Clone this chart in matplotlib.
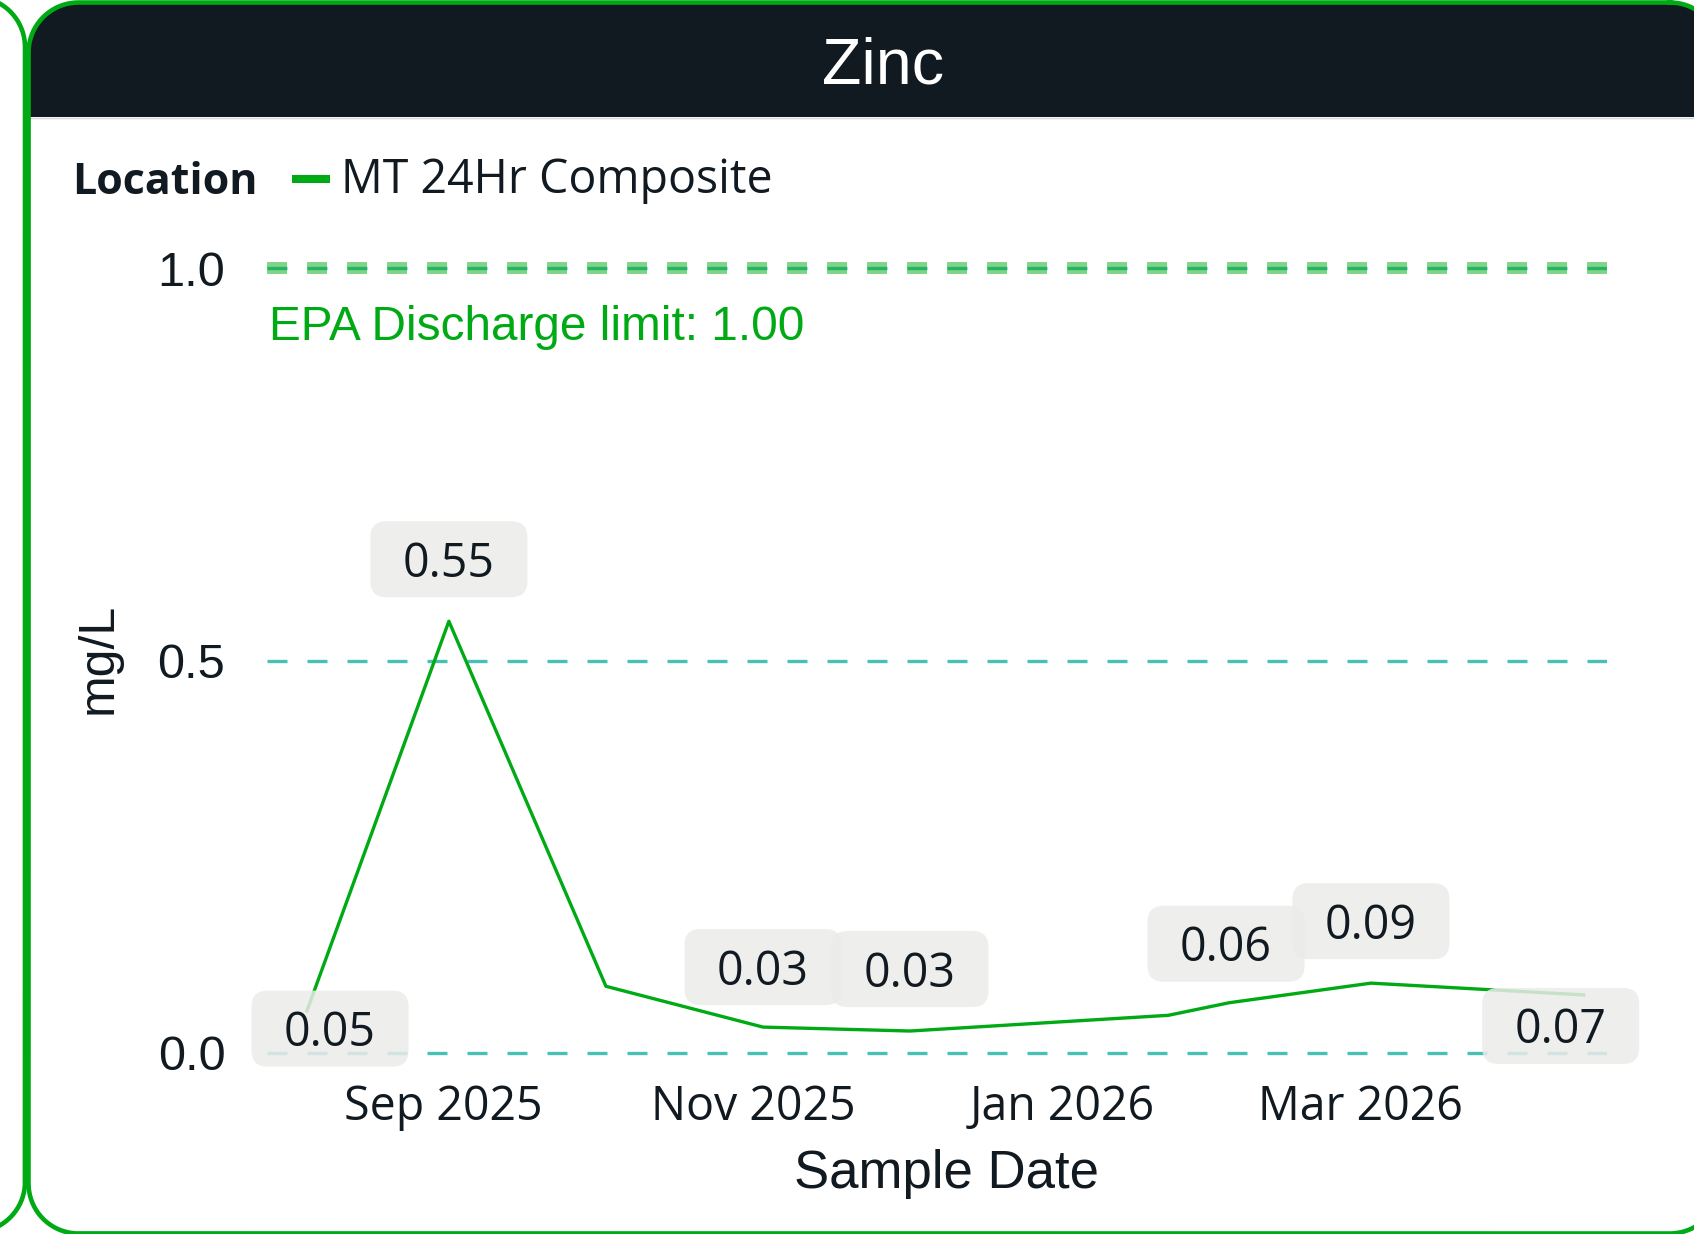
import numpy as np
import matplotlib
matplotlib.use("Agg")
import matplotlib.pyplot as plt
import matplotlib.dates as mdates
import matplotlib.transforms as mtransforms
from matplotlib.patches import FancyBboxPatch, Rectangle, Polygon

# values
sample_dates = ["2025-08-05", "2025-09-02", "2025-10-03", "2025-11-03", "2025-12-02",
                "2026-01-22", "2026-02-03", "2026-03-03", "2026-04-14"]
zinc_mg_l = [0.054, 0.55, 0.085, 0.033, 0.028, 0.048, 0.064, 0.089, 0.074]
label_shown = [True, True, False, True, True, False, True, True, True]
epa_limit = 1.0
location = "MT 24Hr Composite"
tick_dates = ["2025-09-01", "2025-11-01", "2026-01-01", "2026-03-01"]
tick_labels = ["Sep 2025", "Nov 2025", "Jan 2026", "Mar 2026"]
y_ticks = [0.0, 0.5, 1.0]

# label box offsets in pixels (dx, dy), only for shown labels
label_offsets = [(23, -18), (0, 62), (0, 0), (0, 60), (0, 62), (0, 0), (-3, 59), (0, 62), (-23, -31)]

W, H, DPI = 1694, 1234, 100
GREEN = "#00aa14"
TEAL = "#48c0b5"
DARK = "#121a21"
BOX = "#ebebea"
SANS = ["Liberation Sans", "DejaVu Sans"]
OPEN = ["Open Sans", "DejaVu Sans"]

plt.rcParams['font.family'] = SANS
plt.rcParams['lines.scale_dashes'] = False
plt.rcParams['text.color'] = DARK


def round_rect(x0, y0, x1, y1, r, n=60):
    # outline of a rounded rectangle as a polyline (pixel coords, y down)
    t = np.linspace(0, np.pi / 2, n)
    pts = []
    for cx, cy, a0 in [(x1 - r, y0 + r, -np.pi / 2), (x1 - r, y1 - r, 0),
                       (x0 + r, y1 - r, np.pi / 2), (x0 + r, y0 + r, np.pi)]:
        a = a0 + t
        pts.append(np.column_stack([cx + r * np.cos(a), cy + r * np.sin(a)]))
    pts.append(pts[0][:1])
    return np.vstack(pts)


def visible_part(pts):
    # drop points well off the canvas so agg does not drag the stroke along the edge
    out = pts.copy()
    off = (out[:, 0] < -4) | (out[:, 0] > W + 4)
    out[off] = np.nan
    return out


fig = plt.figure(figsize=(W / DPI, H / DPI), dpi=DPI)
fig.patch.set_facecolor("white")

# background layer in pixel coords (y down)
bg = fig.add_axes([0, 0, 1, 1])
bg.set_xlim(0, W)
bg.set_ylim(H, 0)
bg.axis('off')

# neighbouring card on the left
left_card = round_rect(-100, -3, 25, 1232, 50)
bg.add_patch(Polygon(left_card, closed=True, fc="white", ec="none", zorder=1))
edge = visible_part(left_card)
bg.plot(edge[:, 0], edge[:, 1], color=GREEN, lw=3.3, zorder=1)

# this card
cx0, cy0, cx1, cy1 = 28.5, 2.5, 1720, 1233.5
card = round_rect(cx0, cy0, cx1, cy1, 50)
bg.add_patch(Polygon(card, closed=True, fc="white", ec="none", zorder=1))
bg.add_patch(Polygon(round_rect(cx0, cy0, cx1, 300, 50), closed=True, fc=DARK, ec="none", zorder=2))
bg.add_patch(Rectangle((cx0, 117), cx1 - cx0, 200, fc="white", ec="none", zorder=3))
bg.plot([cx0, W], [117.5, 117.5], color="#d5d8da", lw=1, zorder=4)
edge = visible_part(card)
bg.plot(edge[:, 0], edge[:, 1], color=GREEN, lw=3.3, zorder=5)

bg.text(883, 83, "Zinc", ha="center", va="baseline", fontsize=46.5, color="white", zorder=6)

# legend
bg.text(72, 193.5, "Location", ha="left", va="baseline", fontsize=31, fontweight="bold",
        family=OPEN, zorder=6)
bg.plot([292, 330], [179, 179], color=GREEN, lw=5.8, solid_capstyle="butt", zorder=6)
bg.text(341, 193.5, location, ha="left", va="baseline", fontsize=33.5, family=OPEN, zorder=6)

bg.text(946, 1188, "Sample Date", ha="center", va="baseline", fontsize=38, zorder=6)
bg.text(269, 340, "EPA Discharge limit: %.2f" % epa_limit, ha="left", va="baseline",
        fontsize=34.4, color=GREEN, zorder=6)
fig.text(99 / W, 1 - 658 / H, "mg/L", rotation=90, ha="center", va="center", fontsize=36)

# main plot
ax = fig.add_axes([267 / W, 1 - 1080 / H, 1340 / W, 840 / H])
ax.set_zorder(1)
ax.patch.set_alpha(0)
for s in ax.spines.values():
    s.set_visible(False)

dates = mdates.date2num(np.array(sample_dates, dtype="datetime64[D]"))
tick_pos = mdates.date2num(np.array(tick_dates, dtype="datetime64[D]"))

dash = (0, (14.4, 14.4))
for v in y_ticks:
    ax.axhline(v, color=TEAL, lw=2.4, ls=dash, zorder=1)
ax.axhline(epa_limit, color=GREEN, alpha=0.5, lw=8.6, ls=dash, zorder=2)

ax.plot(dates, zinc_mg_l, color=GREEN, lw=2.4, zorder=3)

bw, bh = 157, 76
for i in range(len(dates)):
    if not label_shown[i]:
        continue
    dx, dy = label_offsets[i]
    tr = mtransforms.Affine2D().translate(dx, dy) + \
        mtransforms.ScaledTranslation(dates[i], zinc_mg_l[i], ax.transData)
    box = FancyBboxPatch((-bw / 2, -bh / 2), bw, bh, boxstyle="round,pad=0,rounding_size=16",
                         fc=BOX, ec="none", alpha=0.85, transform=tr, zorder=4, clip_on=False)
    ax.add_artist(box)
    ax.text(0, -17.5, "%.2f" % zinc_mg_l[i], transform=tr, ha="center", va="baseline",
            fontsize=33.5, family=OPEN, zorder=5, clip_on=False)

ax.set_yticks(y_ticks, labels=["%.1f" % v for v in y_ticks])
ax.set_xticks(tick_pos, labels=tick_labels)
ax.tick_params(axis="y", length=0, pad=30, labelsize=35, labelcolor=DARK)
ax.tick_params(axis="x", length=0, pad=29, labelsize=33.5, labelcolor=DARK)
plt.setp(ax.get_xticklabels(), va="baseline", family=OPEN)
plt.setp(ax.get_yticklabels(), family=SANS)

sep1 = mdates.date2num(np.datetime64("2025-09-01"))
mar1 = mdates.date2num(np.datetime64("2026-03-01"))
ax.set_xlim(sep1 - 34.9, mar1 + 48.6)
ax.set_ylim(-27 / 785, 1 + 28 / 785)

fig.savefig("out.png", dpi=DPI)
